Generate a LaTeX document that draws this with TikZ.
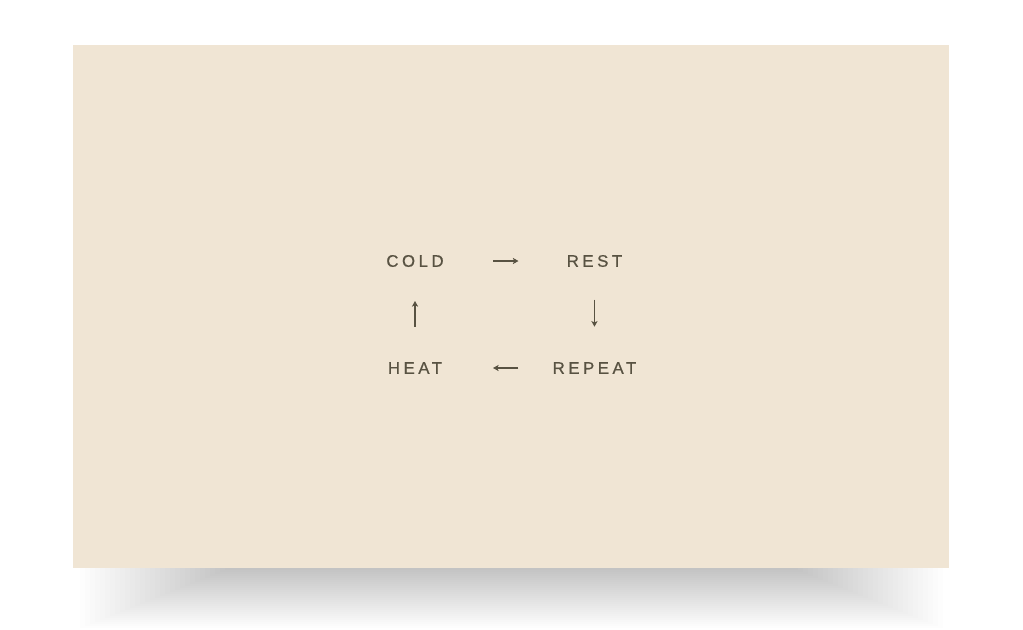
\documentclass[tikz,border=0pt]{standalone}
\usepackage{fontspec}
\setmainfont{Liberation Sans}
\newfontfamily\cardfont[LetterSpace=21,FakeBold=0.6]{Liberation Sans}
\usepackage{tikz}
\usetikzlibrary{arrows.meta}
\usetikzlibrary{positioning}
\definecolor{paper}{RGB}{240,229,212}
\definecolor{ink}{RGB}{88,82,66}

\begin{document}
\begin{tikzpicture}[x=0.75pt,y=-0.75pt,>={Stealth[length=4.2pt,width=4.6pt,inset=1pt]},
			word/.style={text=ink,inner sep=0pt,font=\cardfont\fontsize{12.6pt}{13pt}\selectfont},
			flow/.style={->,draw=ink,line width=0.95pt}]
			
			\useasboundingbox (0,0) rectangle (1023,629);
			\fill[white] (0,0) rectangle (1023,629);
			% soft shadow under the card
			\foreach \i in {0,...,29}
			\fill[black,opacity=0.007] (80+5*\i,520+\i) rectangle (943-5*\i,628-2*\i);
			\fill[paper] (73,45) rectangle (949,568);
			
			\node[word] (cold) at (415,261) {COLD};
			\node[word] (rest) [right of=cold,node distance=134.6pt] {REST};
			\node[word] (heat) [below of=cold,node distance=80.25pt] {HEAT};
			\node[word] (repeat) [below of=rest,node distance=80.25pt] {REPEAT};
			
			\path
			(cold.center) edge [flow,shorten <=58.5pt,shorten >=57pt] (rest.center)
			(rest.center) edge [flow,shorten <=29pt,shorten >=31pt] (repeat.center)
			(repeat.center) edge [flow,shorten <=57pt,shorten >=58.5pt] (heat.center)
			(heat.center) edge [flow,shorten <=31pt,shorten >=30pt] (cold.center);
		\end{tikzpicture}
\end{document}
